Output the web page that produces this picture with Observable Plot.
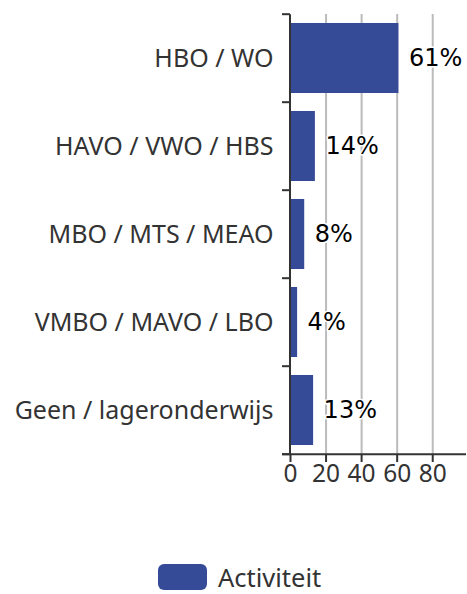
<!DOCTYPE html>
<html>
<head>
<meta charset="utf-8">
<script src="https://cdn.jsdelivr.net/npm/d3@7"></script>
<script src="https://cdn.jsdelivr.net/npm/@observablehq/plot@0.6"></script>
<style>
  html, body { margin: 0; padding: 0; background: #fff; }
  #wrap { position: relative; width: 467px; height: 594px; overflow: hidden; }
  #legend { position: absolute; left: 158px; top: 564px; height: 26px; display: flex; align-items: center; font-family: "Noto Sans", sans-serif; font-size: 25.5px; color: #333; }
  #legend .sw { width: 49px; height: 26px; border-radius: 6px; margin-right: 11px; }
  #legend .lbl { display: inline-block; height: 26px; line-height: 26px; }
</style>
</head>
<body>
<div id="wrap"><div id="chart"></div><div id="legend"></div></div>
<script>
const categories = ["HBO / WO", "HAVO / VWO / HBS", "MBO / MTS / MEAO", "VMBO / MAVO / LBO", "Geen / lageronderwijs"];
const values = [61, 14, 8, 4, 13];
const seriesName = "Activiteit";
const xTicks = [0, 20, 40, 60, 80];

const color = "#364b97";
const data = categories.map((c, i) => ({category: c, value: values[i]}));
const padInner = 0.2;

const boundaries = (index, scales, vals, dim) => {
  const y = scales.y;
  const step = y(categories[1]) - y(categories[0]);
  const bw = step * (1 - padInner);
  const gap = step - bw;
  const x0 = dim.marginLeft;
  const g = d3.create("svg:g").attr("stroke", "#333").attr("stroke-width", 2);
  const ys = categories.map(c => y(c) - gap / 2);
  ys.push(y(categories[categories.length - 1]) + bw + gap / 2);
  g.append("line").attr("x1", x0).attr("x2", x0).attr("y1", ys[0]).attr("y2", ys[ys.length - 1]);
  g.append("line").attr("x1", x0 - 8).attr("x2", dim.width - 1).attr("y1", ys[ys.length - 1]).attr("y2", ys[ys.length - 1]);
  for (const yy of ys) g.append("line").attr("x1", x0 - 8).attr("x2", x0).attr("y1", yy).attr("y2", yy);
  return g.node();
};

const chart = Plot.plot({
  width: 467,
  height: 500,
  marginLeft: 290,
  marginRight: 1,
  marginTop: 14,
  marginBottom: 46,
  style: {fontFamily: "Noto Sans, sans-serif", background: "#fff"},
  x: {domain: [0, 99]},
  y: {domain: categories, paddingInner: padInner, paddingOuter: 0.1},
  marks: [
    Plot.gridX(xTicks.filter(d => d > 0), {stroke: "#bbb", strokeOpacity: 1, strokeWidth: 2}),
    Plot.barX(data, {x: "value", y: "category", fill: color}),
    Plot.text(data, {x: "value", y: "category", text: d => d.value + "%", textAnchor: "start", dx: 10,
      fill: "#000", stroke: "#fff", strokeWidth: 3, fontSize: 24, fontFamily: "DejaVu Sans"}),
    Plot.axisY({tickSize: 0, tickPadding: 17, fontSize: 25, color: "#333", label: null}),
    Plot.axisX({ticks: xTicks, tickSize: 8, tickPadding: 2, fontSize: 24.5, color: "#333", strokeWidth: 2, label: null}),
    boundaries
  ]
});
document.getElementById("chart").appendChild(chart);

const lg = document.getElementById("legend");
lg.innerHTML = `<div class="sw" style="background:${color}"></div><span class="lbl">${seriesName}</span>`;
</script>
</body>
</html>
